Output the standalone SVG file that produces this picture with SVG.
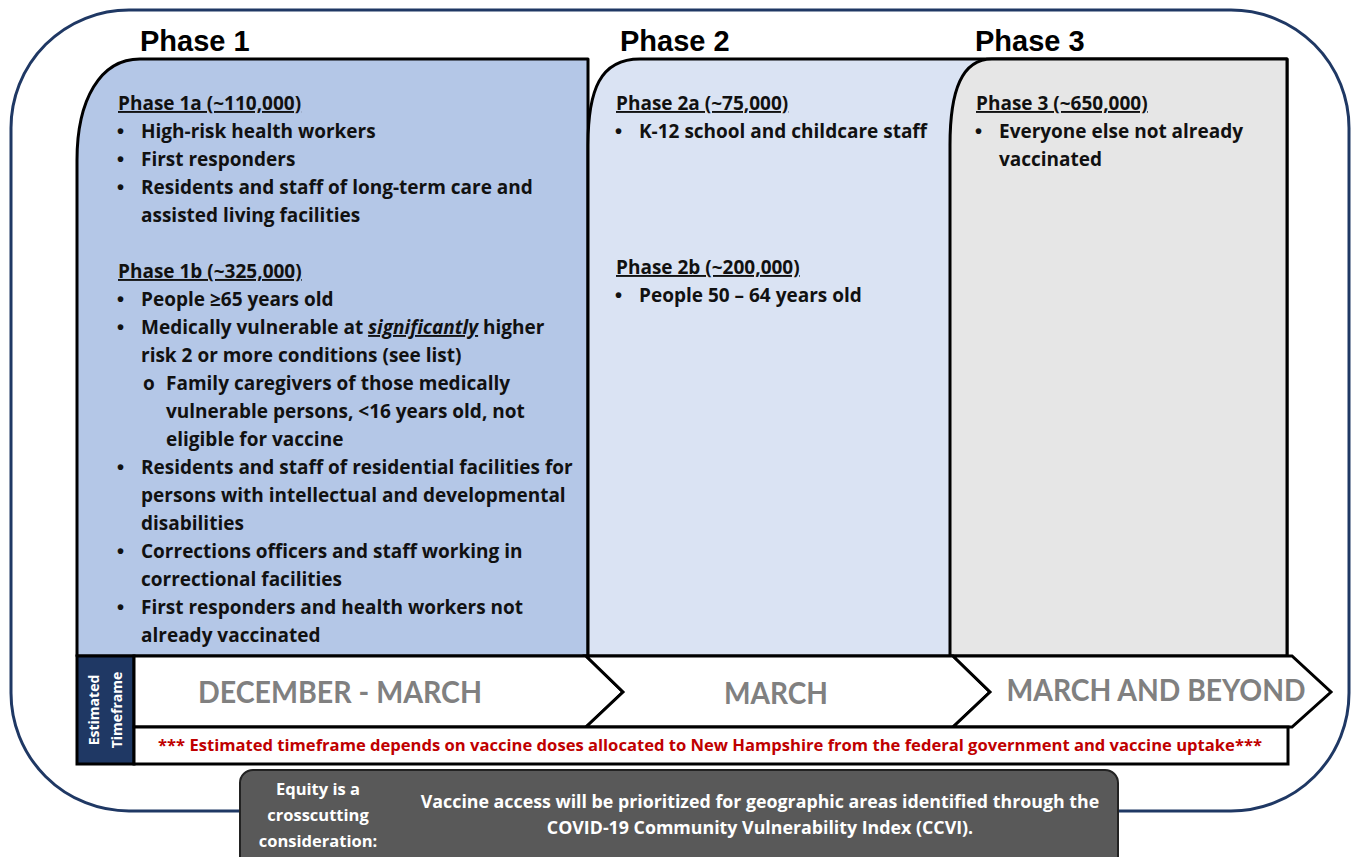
<svg xmlns="http://www.w3.org/2000/svg" width="1356" height="857" viewBox="0 0 1356 857">
<style>
.hd{font-family:"Liberation Sans",Arial,sans-serif;font-weight:bold;font-size:29px;fill:#000}
.t{font-family:"Open Sans","Liberation Sans",sans-serif;font-weight:bold;font-size:19px;fill:#111}
.b{font-family:"Liberation Sans",Arial,sans-serif;font-weight:bold;font-size:20px;fill:#111}
.u{text-decoration:underline}
.panel{stroke:#000;stroke-width:3;stroke-linejoin:round}
.chev{fill:#fff;stroke:#000;stroke-width:3;stroke-linejoin:miter}
.tf{font-family:Lato,"Liberation Sans",sans-serif;font-weight:bold;font-size:31px;fill:#808080;text-anchor:middle}
.w{font-family:"Open Sans","Liberation Sans",sans-serif;font-weight:bold;fill:#fff;text-anchor:middle}
</style>
<rect width="1356" height="857" fill="#fff"/>
<g id="frame">
<rect x="11" y="10" width="1338" height="801" rx="118" ry="118" fill="none" stroke="#1F3864" stroke-width="3"/>
</g>
<g id="headings">
<text class="hd" x="140" y="51">Phase 1</text>
<text class="hd" x="620" y="51">Phase 2</text>
<text class="hd" x="975" y="51">Phase 3</text>
</g>
<g id="phase1">
<path class="panel" fill="#B4C7E7" d="M77,160 C77,100 100,59 140,59 H588 V656 H77 Z"/>
<text class="t u" x="118" y="110">Phase 1a (~110,000)</text>
<text class="b" x="117" y="138">•</text><text class="t" x="141" y="138">High-risk health workers</text>
<text class="b" x="117" y="166">•</text><text class="t" x="141" y="166">First responders</text>
<text class="b" x="117" y="194">•</text><text class="t" x="141" y="194">Residents and staff of long-term care and</text>
<text class="t" x="141" y="222">assisted living facilities</text>
<text class="t u" x="118" y="278">Phase 1b (~325,000)</text>
<text class="b" x="117" y="306">•</text><text class="t" x="141" y="306">People ≥65  years old</text>
<text class="b" x="117" y="334">•</text><text class="t" x="141" y="334">Medically vulnerable at <tspan font-style="italic" text-decoration="underline">significantly</tspan> higher</text>
<text class="t" x="141" y="362">risk 2 or more conditions (see list)</text>
<text class="t" x="143" y="390" font-weight="normal" font-size="17">o</text><text class="t" x="166" y="390">Family caregivers of those medically</text>
<text class="t" x="166" y="418">vulnerable persons, &lt;16 years old, not</text>
<text class="t" x="166" y="446">eligible for vaccine</text>
<text class="b" x="117" y="474">•</text><text class="t" x="141" y="474">Residents and staff of residential facilities for</text>
<text class="t" x="141" y="502">persons with intellectual and developmental</text>
<text class="t" x="141" y="530">disabilities</text>
<text class="b" x="117" y="558">•</text><text class="t" x="141" y="558">Corrections officers and staff working in</text>
<text class="t" x="141" y="586">correctional facilities</text>
<text class="b" x="117" y="614">•</text><text class="t" x="141" y="614">First responders and health workers not</text>
<text class="t" x="141" y="642">already vaccinated</text>
</g>
<g id="phase2">
<path class="panel" fill="#DAE3F3" d="M588,145 C588,90 600,59 640,59 H1287 V656 H588 Z"/>
<text class="t u" x="616" y="110">Phase 2a (~75,000)</text>
<text class="b" x="615" y="138">•</text><text class="t" x="639" y="138">K-12 school and childcare staff</text>
<text class="t u" x="616" y="274">Phase 2b (~200,000)</text>
<text class="b" x="615" y="302">•</text><text class="t" x="639" y="302">People 50 – 64 years old</text>
</g>
<g id="phase3">
<path class="panel" fill="#E6E6E6" d="M950,145 C950,90 962,59 992,59 H1287 V656 H950 Z"/>
<text class="t u" x="976" y="110">Phase 3 (~650,000)</text>
<text class="b" x="975" y="138">•</text><text class="t" x="999" y="138">Everyone else not already</text>
<text class="t" x="999" y="166">vaccinated</text>
</g>
<g id="timeframe-label">
<rect x="77" y="656" width="57" height="108" fill="#1F3864" stroke="#000" stroke-width="3"/>
<text class="w" font-size="14" x="-710" y="99" transform="rotate(-90)">Estimated</text>
<text class="w" font-size="14" x="-710" y="122" transform="rotate(-90)">Timeframe</text>
</g>
<g id="chevron1">
<polygon class="chev" points="134,656 586,656 623,692 586,727 134,727"/>
<text class="tf" x="340" y="703" textLength="284" lengthAdjust="spacingAndGlyphs">DECEMBER - MARCH</text>
</g>
<g id="chevron2">
<polygon class="chev" points="586,656 953,656 990,692 953,727 586,727 623,692"/>
<text class="tf" x="776" y="704" textLength="104" lengthAdjust="spacingAndGlyphs">MARCH</text>
</g>
<g id="chevron3">
<polygon class="chev" points="953,656 1292,656 1331,692 1292,727 953,727 990,692"/>
<text class="tf" x="1156" y="701" textLength="299" lengthAdjust="spacingAndGlyphs">MARCH AND BEYOND</text>
</g>
<g id="note">
<rect x="134" y="727" width="1154" height="37" fill="#fff" stroke="#000" stroke-width="3"/>
<text x="710" y="751" font-family="'Open Sans','Liberation Sans',sans-serif" font-weight="bold" font-size="16" fill="#C00000" text-anchor="middle" textLength="1104" lengthAdjust="spacingAndGlyphs">*** Estimated timeframe depends on vaccine doses allocated to New Hampshire from the federal government and vaccine uptake***</text>
</g>
<g id="equity">
<rect x="240" y="770" width="878" height="100" rx="13" ry="13" fill="#595959" stroke="#222" stroke-width="2"/>
<text class="w" font-size="16.5" x="318" y="795">Equity is a</text>
<text class="w" font-size="16.5" x="318" y="821">crosscutting</text>
<text class="w" font-size="16.5" x="318" y="847">consideration:</text>
<text class="w" font-size="17.8" x="760" y="808">Vaccine access will be prioritized for geographic areas identified through the</text>
<text class="w" font-size="17.8" x="760" y="834">COVID-19 Community Vulnerability Index (CCVI).</text>
</g>
</svg>
